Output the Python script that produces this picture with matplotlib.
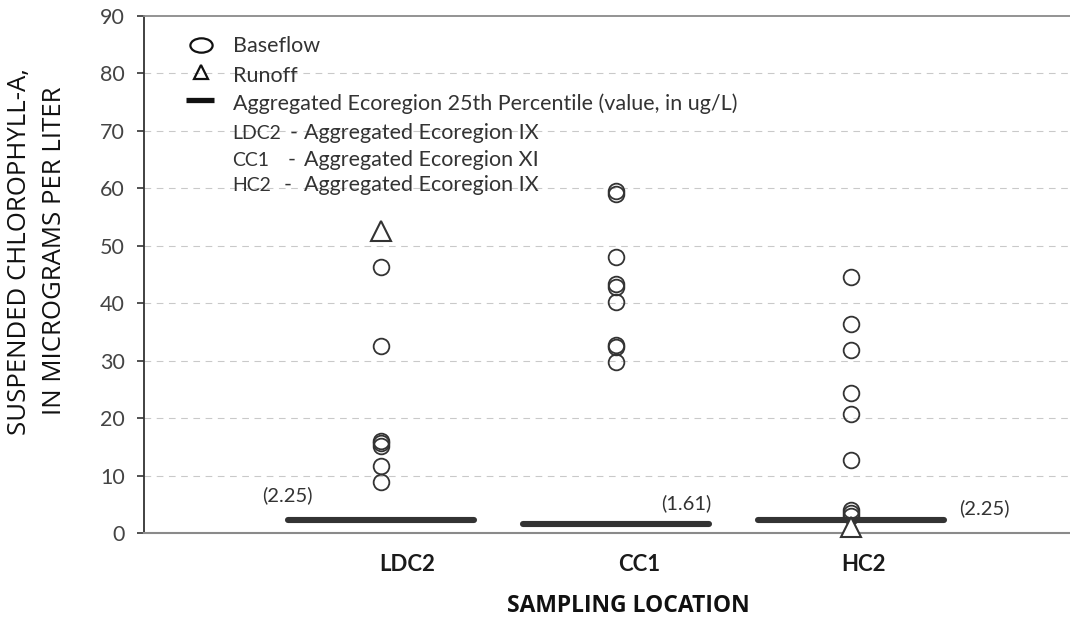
import matplotlib
matplotlib.use("Agg")
import matplotlib.pyplot as plt
from matplotlib.path import Path
from matplotlib.transforms import Affine2D
from matplotlib.lines import Line2D

# ---- data -------------------------------------------------------------
sites = ["LDC2", "CC1", "HC2"]
ldc2_baseflow = [46.3, 32.6, 16.1, 15.7, 15.1, 11.7, 8.9]
ldc2_runoff = [52.5]
cc1_baseflow = [59.5, 59.0, 48.1, 43.3, 42.9, 40.2, 32.7, 32.4, 29.7]
cc1_runoff = []
hc2_baseflow = [44.6, 36.4, 31.9, 24.4, 20.8, 12.7, 4.0, 3.4, 2.9]
hc2_runoff = [1.0]
percentile_25th = [2.25, 1.61, 2.25]
percentile_labels = ["(2.25)", "(1.61)", "(2.25)"]
yticks = [0, 10, 20, 30, 40, 50, 60, 70, 80, 90]

baseflow = [ldc2_baseflow, cc1_baseflow, hc2_baseflow]
runoff = [ldc2_runoff, cc1_runoff, hc2_runoff]

W, H = 1070, 617
fig = plt.figure(figsize=(W / 100, H / 100), dpi=100)
ax = fig.add_axes([144 / W, (H - 533) / H, (W - 144) / W, 517 / H])

DARK = "#333333"
LIGHT_FONT = "Lato"
HEAD_FONT = "Open Sans"

positions = [1, 2, 3]
ax.set_xlim(-0.008, 3.932)
ax.set_ylim(0, 90)

# dashed horizontal grid
for v in yticks[1:-1]:
    ax.axhline(v, color="#c9c9c9", lw=0.8, ls=(0, (6, 5)), zorder=0)

# ecoregion percentile bars
half = 0.395
for x, v in zip(positions, percentile_25th):
    ax.plot([x - half, x + half], [v, v], color=DARK, lw=4.4,
            solid_capstyle="round", zorder=2)

# observations
for x, b, r in zip(positions, baseflow, runoff):
    ax.plot([x] * len(b), b, ls="none", marker="o", ms=11.3,
            mfc="none", mec=DARK, mew=1.3, zorder=3, clip_on=False)
    if r:
        ax.plot([x] * len(r), r, ls="none", marker="^", ms=14.5,
                mfc="white", mec=DARK, mew=1.5, zorder=4, clip_on=False)

# percentile value labels
label_xy = [(0.60, 6.6), (2.30, 5.2), (3.566, 4.35)]
for i, ((lx, ly), txt) in enumerate(zip(label_xy, percentile_labels)):
    kw = {}
    if i == 0:
        kw["bbox"] = dict(facecolor="white", edgecolor="none", pad=5)
    ax.text(lx, ly, txt, ha="center", va="center", fontsize=14.5,
            family=LIGHT_FONT, color=DARK, zorder=1, **kw)

# axes styling
ax.spines["right"].set_visible(False)
ax.spines["top"].set_color("#8a8a8a")
ax.spines["top"].set_linewidth(1.3)
ax.spines["bottom"].set_color("#8a8a8a")
ax.spines["bottom"].set_linewidth(1.5)
ax.spines["left"].set_color(DARK)
ax.spines["left"].set_linewidth(1.3)
ax.set_yticks(yticks)
ax.set_yticklabels([str(v) for v in yticks], family=LIGHT_FONT,
                   fontsize=15.5, color="#444444")
ax.tick_params(axis="y", direction="out", length=5, width=1.2,
               color=DARK, pad=9)
ax.set_xticks([])

# site names under the axis
name_shift = [26, 23, 13]
for x, name, dx in zip(positions, sites, name_shift):
    xp = ax.transData.transform((x, 0))[0] + dx
    fig.text(xp / W, 1 - 571 / H, name, ha="center", va="baseline",
             family=LIGHT_FONT, fontsize=16, fontweight="bold",
             color="#1a1a1a")

fig.text(628 / W, 1 - 612 / H, "SAMPLING LOCATION", ha="center",
         va="baseline", family=HEAD_FONT, fontsize=16.5, fontweight="bold",
         color="#111111")

fig.text(20 / W, 1 - 252 / H, "SUSPENDED CHLOROPHYLL-A,", rotation=90,
         ha="center", va="center", family=HEAD_FONT, fontsize=18.5,
         color="#111111")
fig.text(55 / W, 1 - 251 / H, "IN MICROGRAMS PER LITER", rotation=90,
         ha="center", va="center", family=HEAD_FONT, fontsize=18.5,
         color="#111111")

# key
def fp(x, y):
    return (x / W, 1 - y / H)

ellipse = Path.unit_circle().transformed(Affine2D().scale(1.55, 1.0))
fig.add_artist(Line2D([fp(201, 0)[0]], [fp(0, 44.5)[1]], marker=ellipse,
                      ms=16, mfc="none", mec="#111111", mew=1.6, ls="none",
                      transform=fig.transFigure))
fig.add_artist(Line2D([fp(201, 0)[0]], [fp(0, 71.5)[1]], marker="^",
                      ms=10, mfc="none", mec="#111111", mew=1.6, ls="none",
                      transform=fig.transFigure))
fig.add_artist(Line2D([fp(186, 0)[0], fp(214, 0)[0]],
                      [fp(0, 100)[1], fp(0, 100)[1]], color="#111111",
                      lw=3.8, solid_capstyle="butt",
                      transform=fig.transFigure))

key_rows = [
    (52, "Baseflow"),
    (82, "Runoff"),
    (110, "Aggregated Ecoregion 25th Percentile (value, in ug/L)"),
]
for y, txt in key_rows:
    fig.text(233 / W, 1 - y / H, txt, ha="left", va="baseline",
             family=LIGHT_FONT, fontsize=15.5, color=DARK)

region_rows = [
    (139, "LDC2", 290, "Aggregated Ecoregion IX"),
    (166, "CC1", 288, "Aggregated Ecoregion XI"),
    (191, "HC2", 284, "Aggregated Ecoregion IX"),
]
for y, code, dash_x, region in region_rows:
    fig.text(232 / W, 1 - y / H, code, ha="left", va="baseline",
             family=LIGHT_FONT, fontsize=14, color=DARK)
    fig.text(dash_x / W, 1 - y / H, "-", ha="left", va="baseline",
             family=LIGHT_FONT, fontsize=15.5, color=DARK)
    fig.text(304 / W, 1 - y / H, region, ha="left", va="baseline",
             family=LIGHT_FONT, fontsize=15.5, color=DARK)

fig.savefig("out.png", dpi=100)
